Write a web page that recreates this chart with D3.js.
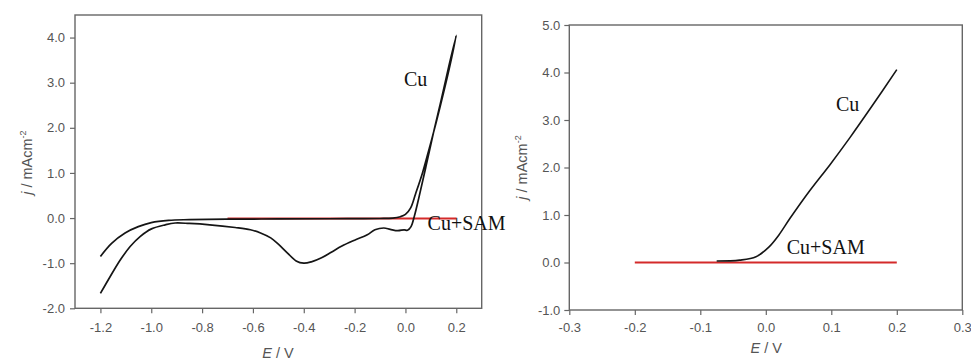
<!DOCTYPE html>
<html>
<head>
<meta charset="utf-8">
<script src="https://cdn.jsdelivr.net/npm/d3@7"></script>
<style>
  body { margin: 0; background: #fff; }
  .tick text { font-family: "Liberation Sans", Arial, sans-serif; font-size: 13px; fill: #555; }
  .tick line { stroke: #666; stroke-width: 1.2; }
  .axis-title { font-family: "Liberation Sans", Arial, sans-serif; font-size: 14.5px; fill: #555; }
  .curve-label { font-family: "Liberation Serif", "Times New Roman", serif; font-size: 20px; fill: #111; }
</style>
</head>
<body>
<div id="chart"></div>
<script>
// Left panel: cyclic voltammogram of bare Cu (forward then reverse scan)
const cvE = [-1.2, -1.156, -1.103, -1.051, -1.0, -0.932, -0.85, -0.7, -0.5, -0.3, -0.1, -0.05, -0.02, 0.0, 0.02, 0.04, 0.067, 0.094, 0.12, 0.15, 0.175, 0.2,
  0.17, 0.14, 0.113, 0.081, 0.054, 0.035, 0.022, 0.008, -0.005, -0.03, -0.06, -0.085, -0.12, -0.15, -0.20, -0.25, -0.29, -0.33, -0.37, -0.40, -0.43, -0.465, -0.50, -0.53, -0.57, -0.61, -0.67, -0.77, -0.85, -0.906, -0.945, -0.999, -1.044, -1.083, -1.122, -1.162, -1.2];
const cvJ = [-0.85, -0.56, -0.33, -0.19, -0.10, -0.05, -0.035, -0.025, -0.02, -0.015, -0.01, 0.0, 0.03, 0.08, 0.22, 0.54, 1.0, 1.55, 2.1, 2.78, 3.38, 4.05,
  3.35, 2.6, 1.96, 1.15, 0.48, 0.04, -0.19, -0.27, -0.26, -0.28, -0.25, -0.22, -0.26, -0.37, -0.49, -0.62, -0.75, -0.88, -0.97, -1.0, -0.95, -0.77, -0.58, -0.44, -0.33, -0.26, -0.21, -0.15, -0.12, -0.11, -0.15, -0.24, -0.41, -0.63, -0.93, -1.30, -1.67];
// Left panel: Cu+SAM (flat)
const samLeftE = [-0.7, -0.4, -0.1, 0.2];
const samLeftJ = [-0.01, -0.01, -0.01, -0.01];

// Right panel: anodic sweep of bare Cu
const cuE = [-0.075, -0.04, -0.015, 0.005, 0.02, 0.037, 0.067, 0.098, 0.129, 0.159, 0.2];
const cuJ = [0.03, 0.05, 0.12, 0.33, 0.58, 0.93, 1.51, 2.06, 2.64, 3.23, 4.06];
// Right panel: Cu+SAM (flat)
const samRightE = [-0.2, 0.0, 0.2];
const samRightJ = [0.0, 0.0, 0.0];

// Tick values
const leftXTicks = [-1.2, -1.0, -0.8, -0.6, -0.4, -0.2, 0.0, 0.2];
const leftYTicks = [-2, -1, 0, 1, 2, 3, 4];
const rightXTicks = [-0.3, -0.2, -0.1, 0.0, 0.1, 0.2, 0.3];
const rightYTicks = [-1, 0, 1, 2, 3, 4, 5];

// Curve labels [E, j, text]
const leftLabels = [[-0.006, 2.92, 'Cu'], [0.087, -0.26, 'Cu+SAM']];
const rightLabels = [[0.107, 3.18, 'Cu'], [0.032, 0.175, 'Cu+SAM']];

const width = 971, height = 360;
const svg = d3.select('#chart').append('svg')
  .attr('width', width)
  .attr('height', height);

// plain hyphen minus like the original figure
const fmt = d => d3.format('.1f')(d).replace('\u2212', '-');

function drawPanel(cfg) {
  const { left, top, w, h, xDomain, yDomain, xTicks, yTicks, series, labels } = cfg;
  const g = svg.append('g').attr('transform', `translate(${left},${top})`);

  const x = d3.scaleLinear().domain(xDomain).range([0, w]);
  const y = d3.scaleLinear().domain(yDomain).range([h, 0]);

  // Axes with outward ticks
  const xAxis = g.append('g')
    .attr('transform', `translate(0,${h})`)
    .call(d3.axisBottom(x).tickValues(xTicks).tickFormat(fmt).tickSize(5).tickSizeOuter(0).tickPadding(cfg.xPad));
  xAxis.select('.domain').remove();

  const yAxis = g.append('g')
    .call(d3.axisLeft(y).tickValues(yTicks).tickFormat(fmt).tickSize(5).tickSizeOuter(0).tickPadding(cfg.yPad));
  yAxis.select('.domain').remove();

  // Curves
  const line = d3.line()
    .x(d => x(d[0]))
    .y(d => y(d[1]))
    .curve(d3.curveCatmullRom.alpha(0.5));

  series.forEach(s => {
    g.append('path')
      .datum(d3.zip(s.e, s.j))
      .attr('d', line)
      .attr('fill', 'none')
      .attr('stroke', s.color)
      .attr('stroke-width', s.width)
      .attr('stroke-linejoin', 'round');
  });

  // Frame
  g.append('rect')
    .attr('x', 0).attr('y', 0)
    .attr('width', w).attr('height', h)
    .attr('fill', 'none')
    .attr('stroke', '#666')
    .attr('stroke-width', 1.4);

  // Labels
  labels.forEach(l => {
    g.append('text')
      .attr('class', 'curve-label')
      .attr('x', x(l[0]))
      .attr('y', y(l[1]))
      .text(l[2]);
  });

  // X axis title
  const xt = g.append('text')
    .attr('class', 'axis-title')
    .attr('x', cfg.xTitleX)
    .attr('y', h + cfg.xTitleDy)
    .attr('text-anchor', 'middle');
  xt.append('tspan').attr('font-style', 'italic').text('E');
  xt.append('tspan').text(' / V');

  // Y axis title
  const yt = g.append('text')
    .attr('class', 'axis-title')
    .attr('transform', `translate(${cfg.yTitleX},${h / 2 + cfg.yTitleShift}) rotate(-90)`)
    .attr('text-anchor', 'middle');
  yt.append('tspan').attr('font-style', 'italic').text('j');
  yt.append('tspan').text(' / mAcm');
  yt.append('tspan').attr('font-size', '9px').attr('dy', '-6').text('-2');
}

drawPanel({
  left: 75, top: 15, w: 406.7, h: 293.3,
  xDomain: [-1.3, 0.3], yDomain: [-2, 4.5],
  xTicks: leftXTicks, yTicks: leftYTicks,
  xPad: 9, yPad: 5,
  series: [
    { e: samLeftE, j: samLeftJ, color: '#d42a2a', width: 1.8 },
    { e: cvE, j: cvJ, color: '#151515', width: 1.7 }
  ],
  labels: leftLabels,
  xTitleX: 203, xTitleDy: 50, yTitleX: -43, yTitleShift: 1
});

drawPanel({
  left: 569.3, top: 25, w: 393, h: 285,
  xDomain: [-0.3, 0.3], yDomain: [-1, 5],
  xTicks: rightXTicks, yTicks: rightYTicks,
  xPad: 8, yPad: 4,
  series: [
    { e: samRightE, j: samRightJ, color: '#d42a2a', width: 1.8 },
    { e: cuE, j: cuJ, color: '#151515', width: 1.6 }
  ],
  labels: rightLabels,
  xTitleX: 197, xTitleDy: 43, yTitleX: -42, yTitleShift: 0
});
</script>
</body>
</html>
